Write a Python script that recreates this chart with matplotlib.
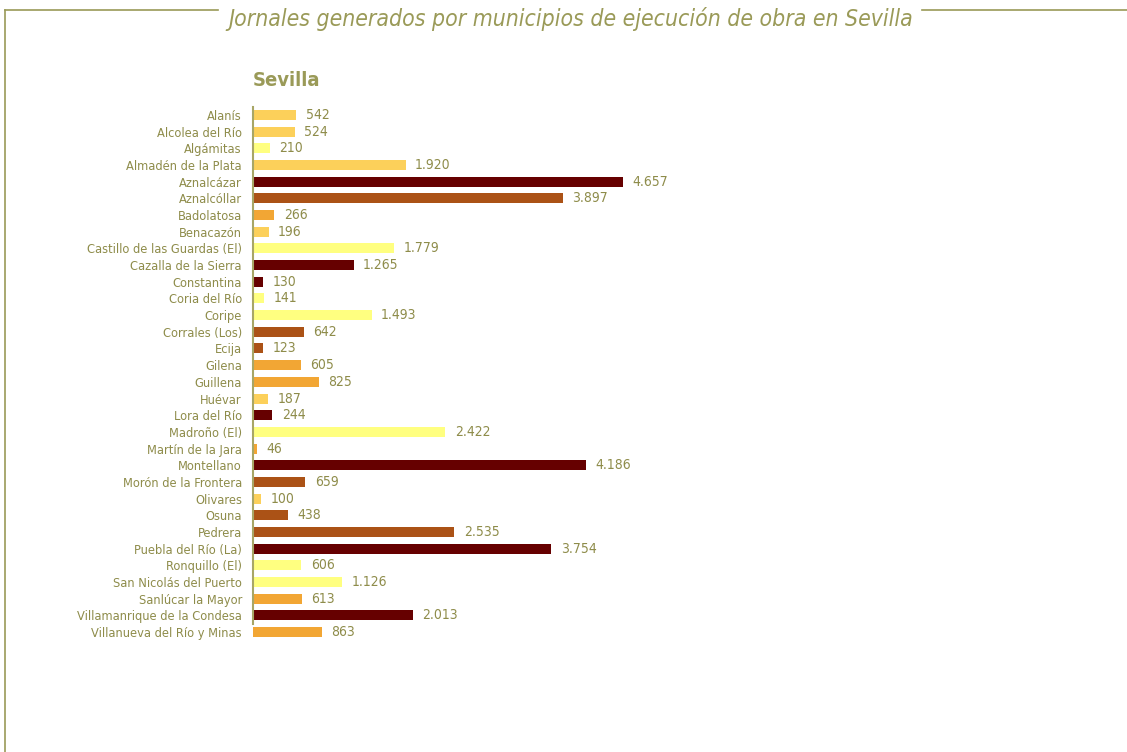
import matplotlib.pyplot as plt
from matplotlib.lines import Line2D
from matplotlib import font_manager

# Datos
municipios = ['Alanís', 'Alcolea del Río', 'Algámitas', 'Almadén de la Plata', 'Aznalcázar',
              'Aznalcóllar', 'Badolatosa', 'Benacazón', 'Castillo de las Guardas (El)',
              'Cazalla de la Sierra', 'Constantina', 'Coria del Río', 'Coripe', 'Corrales (Los)',
              'Ecija', 'Gilena', 'Guillena', 'Huévar', 'Lora del Río', 'Madroño (El)',
              'Martín de la Jara', 'Montellano', 'Morón de la Frontera', 'Olivares', 'Osuna',
              'Pedrera', 'Puebla del Río (La)', 'Ronquillo (El)', 'San Nicolás del Puerto',
              'Sanlúcar la Mayor', 'Villamanrique de la Condesa', 'Villanueva del Río y Minas']
jornales = [542, 524, 210, 1920, 4657, 3897, 266, 196, 1779, 1265, 130, 141, 1493, 642, 123,
            605, 825, 187, 244, 2422, 46, 4186, 659, 100, 438, 2535, 3754, 606, 1126, 613,
            2013, 863]
# grupo de color de cada barra
grupos = ['c', 'c', 'y', 'c', 'r', 'b', 'o', 'c', 'y', 'r', 'r', 'y', 'y', 'b', 'b',
          'o', 'o', 'c', 'r', 'y', 'o', 'r', 'b', 'c', 'b', 'b', 'r', 'y', 'y', 'o',
          'r', 'o']
paleta = {'r': '#660000', 'b': '#ab5216', 'o': '#f2a634', 'c': '#fcd05a', 'y': '#ffff80'}

texto = '#8e8c4a'
fp = font_manager.FontProperties(family='DejaVu Sans', stretch='condensed', size=9.2)
fp_val = font_manager.FontProperties(family='DejaVu Sans', stretch='condensed', size=10)

fig = plt.figure(figsize=(11.27, 7.52), dpi=100)
ax = fig.add_axes([253 / 1127, 1 - 640.3 / 752, 761 / 1127, 533.6 / 752])

y = list(range(len(municipios)))
ax.barh(y, jornales, height=0.6, color=[paleta[g] for g in grupos])
ax.set_ylim(len(municipios) - 0.5, -0.5)
ax.set_xlim(0, 761 / (370 / 4657))

for yi, v in zip(y, jornales):
    ax.text(v + 120, yi, f'{v:,}'.replace(',', '.'), va='center', ha='left',
            fontproperties=fp_val, color=texto)

ax.set_yticks(y)
ax.set_yticklabels(municipios, fontproperties=fp, color=texto)
ax.tick_params(axis='y', length=0, pad=8)
ax.set_xticks([])
for s in ['top', 'right', 'bottom']:
    ax.spines[s].set_visible(False)
ax.spines['left'].set_color('#a8a666')
ax.spines['left'].set_linewidth(1.5)
ax.spines['left'].set_bounds(-0.5, len(municipios) - 1.5)

# Título y subtítulo
fig.text(571 / 1127, 1 - 19 / 752, 'Jornales generados por municipios de ejecución de obra en Sevilla',
         ha='center', va='center', fontsize=16.5, style='italic', stretch='condensed',
         family='DejaVu Sans', color='#9a9a58')
fig.text(253 / 1127, 1 - 80 / 752, 'Sevilla', ha='left', va='center', fontsize=14.5,
         weight='bold', stretch='condensed', family='DejaVu Sans', color='#9a9a58')

# Marco
marco = '#9a9a58'
fig.add_artist(Line2D([5 / 1127, 5 / 1127], [0, 1 - 10 / 752], color=marco, lw=1.2))
fig.add_artist(Line2D([5 / 1127, 218 / 1127], [1 - 10 / 752, 1 - 10 / 752], color=marco, lw=1.2))
fig.add_artist(Line2D([922 / 1127, 1], [1 - 10 / 752, 1 - 10 / 752], color=marco, lw=1.2))

fig.savefig('out.png', dpi=100)
